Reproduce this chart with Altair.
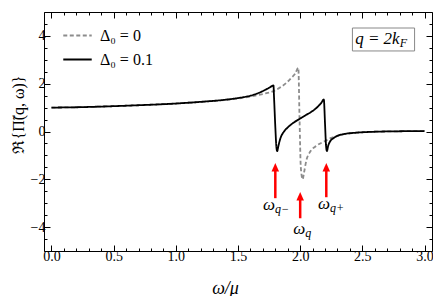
import altair as alt
import pandas as pd

# ---- data ----
omega_gap0 = [0.0, 0.25, 0.5, 0.75, 1.0, 1.2, 1.4, 1.5, 1.6, 1.7, 1.78, 1.85, 1.89, 1.93, 1.96, 1.985,
              1.995, 2.005, 2.02, 2.03, 2.05, 2.08, 2.13, 2.2, 2.25, 2.3, 2.35, 2.45, 2.6, 2.8, 3.0]
re_gap0 = [1.0, 1.02, 1.06, 1.11, 1.17, 1.24, 1.32, 1.38, 1.46, 1.57, 1.68, 1.88, 2.04, 2.25, 2.42, 2.67,
           0.5, -1.5, -2.0, -1.75, -1.2, -0.85, -0.6, -0.4, -0.27, -0.18, -0.11, -0.05, -0.01, 0.01, 0.02]

omega_gap01 = [0.0, 0.25, 0.5, 0.75, 1.0, 1.2, 1.4, 1.5, 1.6, 1.66, 1.71, 1.75, 1.78, 1.785,
               1.79, 1.80, 1.808, 1.815, 1.825, 1.84, 1.87, 1.9, 1.95, 2.0, 2.05, 2.1, 2.14, 2.17, 2.19,
               2.2, 2.208, 2.215, 2.225, 2.24, 2.27, 2.3, 2.35, 2.45, 2.6, 2.8, 3.0]
re_gap01 = [1.0, 1.02, 1.06, 1.11, 1.17, 1.24, 1.33, 1.4, 1.5, 1.6, 1.72, 1.83, 1.92, 1.93,
            1.4, 0.2, -0.6, -0.82, -0.6, -0.3, 0.0, 0.17, 0.38, 0.54, 0.7, 0.86, 1.03, 1.2, 1.34,
            0.3, -0.6, -0.82, -0.6, -0.42, -0.27, -0.18, -0.11, -0.05, -0.01, 0.01, 0.02]

series_names = ["Δ₀ = 0", "Δ₀ = 0.1"]
series_colors = ["#8c8c8c", "#000000"]

arrow_x = [1.80, 2.0, 2.21]
arrow_tip = [-1.33, -2.54, -1.33]
arrow_base = [-2.79, -3.63, -2.75]

label_x = [1.798, 2.04, 2.24]
label_y = [-3.08, -4.08, -3.04]
label_main = ["ω", "ω", "ω"]
label_sub = ["q−", "q", "q+"]

box_x = [2.42, 2.92]
box_y = [4.33, 3.37]
box_text = ["q = 2k", "F"]
box_text_pos = [2.80, 3.85]

x_major = [0.0, 0.5, 1.0, 1.5, 2.0, 2.5, 3.0]
x_minor = [0.0, 0.1, 0.2, 0.3, 0.4, 0.5, 0.6, 0.7, 0.8, 0.9, 1.0, 1.1, 1.2, 1.3, 1.4, 1.5,
           1.6, 1.7, 1.8, 1.9, 2.0, 2.1, 2.2, 2.3, 2.4, 2.5, 2.6, 2.7, 2.8, 2.9, 3.0]
y_major = [-4, -2, 0, 2, 4]
y_minor = [-5, -4.5, -4, -3.5, -3, -2.5, -2, -1.5, -1, -0.5, 0, 0.5, 1, 1.5, 2, 2.5, 3, 3.5, 4, 4.5, 5]

x_domain = [-0.06, 3.06]
y_domain = [-5, 5]

# ---- tables ----
lines_df = pd.concat([
    pd.DataFrame({"omega": omega_gap0, "re": re_gap0, "series": series_names[0]}),
    pd.DataFrame({"omega": omega_gap01, "re": re_gap01, "series": series_names[1]}),
])
arrows_df = pd.DataFrame({"x": arrow_x, "tip": arrow_tip, "base": arrow_base})
labels_df = pd.DataFrame({"x": label_x, "y": label_y, "main": label_main, "sub": label_sub})
box_df = pd.DataFrame({"x0": [box_x[0]], "x1": [box_x[1]], "y0": [box_y[0]], "y1": [box_y[1]]})
boxtext_df = pd.DataFrame({"x": [box_text_pos[0]], "y": [box_text_pos[1]],
                           "main": [box_text[0]], "sub": [box_text[1]]})

SERIF = "'Liberation Serif', 'Times New Roman', serif"
xs = alt.Scale(domain=x_domain, nice=False, zero=False)
ys = alt.Scale(domain=y_domain, nice=False, zero=False)


def xaxis(orient, values, size, labels=False, title=None):
    kw = dict(orient=orient, values=values, tickSize={"expr": str(-size)}, domain=False, grid=False,
              labels=labels, tickColor="#000000", tickWidth=1, title=title)
    if labels:
        kw.update(format=".1f", labelFont=SERIF, labelFontSize=14, labelColor="#000000", labelPadding=4)
    if title:
        kw.update(titleFont=SERIF, titleFontSize=18, titleFontStyle="italic", titleFontWeight="normal",
                  titleX=181, titleY=37, titleBaseline="middle", titleAlign="center", titleColor="#000000")
    return alt.Axis(**kw)


def yaxis(orient, values, size, labels=False, title=None):
    kw = dict(orient=orient, values=values, tickSize={"expr": str(-size)}, domain=False, grid=False,
              labels=labels, tickColor="#000000", tickWidth=1, title=title)
    if labels:
        kw.update(labelFont=SERIF, labelFontSize=14, labelColor="#000000", labelPadding=5)
    if title:
        kw.update(titleFont=SERIF, titleFontSize=16, titleFontWeight="normal", titleAngle=270,
                  titleX=-26, titleY=102, titleBaseline="middle", titleAlign="center", titleColor="#000000")
    return alt.Axis(**kw)


legend = alt.Legend(orient="none", legendX=18, legendY=8, title=None, symbolType="stroke",
                    symbolSize=810, symbolStrokeWidth=1.8, labelFont=SERIF, labelFontSize=16,
                    labelColor="#000000", rowPadding=0, labelOffset=7, padding=0)

lines = alt.Chart(lines_df).mark_line(strokeWidth=1.8, interpolate="monotone").encode(
    x=alt.X("omega:Q", scale=xs, axis=xaxis("bottom", x_major, 6, labels=True, title="ω/μ")),
    y=alt.Y("re:Q", scale=ys, axis=yaxis("left", y_major, 6, labels=True, title="ℜ{Π̃(q, ω)}")),
    color=alt.Color("series:N", scale=alt.Scale(domain=series_names, range=series_colors), legend=legend),
    strokeDash=alt.StrokeDash("series:N", scale=alt.Scale(domain=series_names, range=[[4, 2.5], [1, 0]]),
                              legend=legend),
    order=alt.Order("omega:Q"),
)

box = alt.Chart(box_df).mark_rect(fill="white", stroke="#888888", strokeWidth=1).encode(
    x=alt.X("x0:Q", scale=xs, axis=xaxis("bottom", x_minor, 3)),
    x2="x1:Q",
    y=alt.Y("y0:Q", scale=ys, axis=yaxis("left", y_minor, 3)),
    y2="y1:Q",
)

box_main = alt.Chart(boxtext_df).mark_text(font=SERIF, fontSize=17, fontStyle="italic", align="right",
                                           baseline="middle", color="#000000").encode(
    x=alt.X("x:Q", scale=xs, axis=xaxis("top", x_major, 6)),
    y=alt.Y("y:Q", scale=ys, axis=yaxis("right", y_major, 6)),
    text="main:N",
)
box_sub = alt.Chart(boxtext_df).mark_text(font=SERIF, fontSize=12, fontStyle="italic", align="left",
                                          baseline="middle", dy=4, dx=0, color="#000000").encode(
    x=alt.X("x:Q", scale=xs, axis=xaxis("top", x_minor, 3)),
    y=alt.Y("y:Q", scale=ys, axis=yaxis("right", y_minor, 3)),
    text="sub:N",
)

shafts = alt.Chart(arrows_df).mark_rule(color="#ff0000", strokeWidth=2.5, y2Offset=6).encode(
    x=alt.X("x:Q", scale=xs, axis=None),
    y=alt.Y("base:Q", scale=ys, axis=None),
    y2="tip:Q",
)
heads = alt.Chart(arrows_df).mark_point(shape="M0,-1L0.9,1L-0.9,1Z", filled=True, size=70, opacity=1,
                                        color="#ff0000", yOffset=4).encode(
    x=alt.X("x:Q", scale=xs, axis=None),
    y=alt.Y("tip:Q", scale=ys, axis=None),
)
omega_main = alt.Chart(labels_df).mark_text(font=SERIF, fontSize=17, fontStyle="italic", align="right",
                                            baseline="middle", color="#000000").encode(
    x=alt.X("x:Q", scale=xs, axis=None),
    y=alt.Y("y:Q", scale=ys, axis=None),
    text="main:N",
)
omega_sub = alt.Chart(labels_df).mark_text(font=SERIF, fontSize=12, fontStyle="italic", align="left",
                                           baseline="middle", dy=4, color="#000000").encode(
    x=alt.X("x:Q", scale=xs, axis=None),
    y=alt.Y("y:Q", scale=ys, axis=None),
    text="sub:N",
)

chart = alt.layer(box, box_main, box_sub, lines, shafts, heads, omega_main, omega_sub).resolve_axis(
    x="independent", y="independent"
).properties(
    width=388, height=239,
    autosize=alt.AutoSizeParams(type="none"),
    padding={"left": 36, "top": 4, "right": 1, "bottom": 45},
).configure_view(stroke="#000000", strokeWidth=1)

chart.save("out.html", embed_options={"renderer": "svg", "actions": False})
